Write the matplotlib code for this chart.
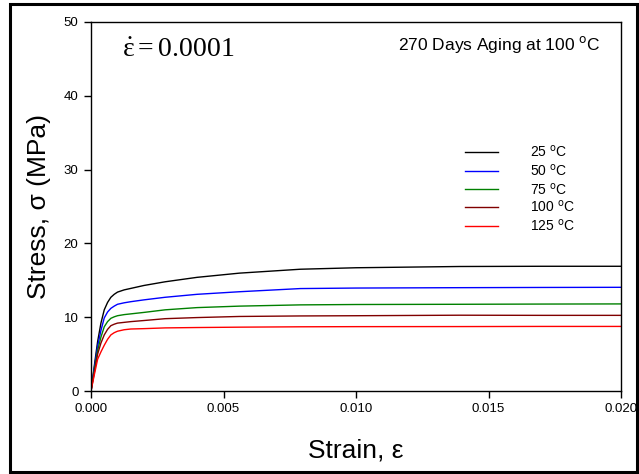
import matplotlib
matplotlib.use("Agg")
import matplotlib.pyplot as plt
from matplotlib.patches import Rectangle

# Stress-strain curves, 270 days aging at 100 C, strain rate 1e-4
strain = [0.0, 0.000125, 0.00025, 0.000375, 0.0005, 0.000625, 0.00075,
          0.000875, 0.001, 0.00125, 0.0015, 0.002, 0.0028, 0.004, 0.0056,
          0.0079, 0.0100, 0.0139, 0.0170, 0.0200]
stress_25 = [0.0, 3.4, 6.7, 9.2, 11.0, 12.0, 12.7, 13.1, 13.4, 13.7, 13.9,
             14.3, 14.8, 15.4, 15.97, 16.5, 16.7, 16.87, 16.9, 16.9]
stress_50 = [0.0, 3.1, 6.1, 8.2, 9.9, 10.7, 11.2, 11.5, 11.75, 11.95, 12.1,
             12.35, 12.7, 13.1, 13.45, 13.88, 13.95, 14.0, 14.03, 14.05]
stress_75 = [0.0, 2.8, 5.5, 7.3, 8.7, 9.4, 9.85, 10.05, 10.2, 10.35, 10.45,
             10.65, 11.0, 11.3, 11.5, 11.67, 11.72, 11.75, 11.78, 11.8]
stress_100 = [0.0, 2.5, 5.0, 6.5, 7.6, 8.35, 8.85, 9.05, 9.2, 9.3, 9.4,
              9.55, 9.8, 9.95, 10.1, 10.17, 10.2, 10.27, 10.25, 10.25]
stress_125 = [0.0, 2.2, 4.3, 5.3, 6.2, 7.0, 7.6, 7.9, 8.1, 8.3, 8.4,
              8.45, 8.55, 8.6, 8.65, 8.7, 8.72, 8.73, 8.75, 8.75]

labels = ["25", "50", "75", "100", "125"]
colors = ["#000000", "#0000ff", "#008000", "#800000", "#ff0000"]
series = [stress_25, stress_50, stress_75, stress_100, stress_125]

x_ticks = [0.000, 0.005, 0.010, 0.015, 0.020]
x_ticklabels = ["0.000", "0.005", "0.010", "0.015", "0.020"]
y_ticks = [0, 10, 20, 30, 40, 50]

plt.rcParams["font.family"] = ["Liberation Sans", "DejaVu Sans"]
plt.rcParams["mathtext.rm"] = "Liberation Serif"
plt.rcParams["mathtext.it"] = "Liberation Serif"

fig = plt.figure(figsize=(6.39, 4.74), dpi=100)
ax = fig.add_axes([91 / 639, 83 / 474, 530 / 639, 369 / 474])

for ys, c in zip(series, colors):
    ax.plot(strain, ys, color=c, lw=1.0)

ax.set_xlim(0, 0.020)
ax.set_ylim(0, 50)
ax.set_xticks(x_ticks)
ax.set_xticklabels(x_ticklabels)
ax.set_yticks(y_ticks)
ax.tick_params(direction="out", length=5, width=1, labelsize=9.5,
               top=False, right=False, pad=4)
for s in ax.spines.values():
    s.set_linewidth(1.0)

ax.set_xlabel("Strain, \u03b5", fontsize=19)
ax.set_ylabel("Stress, \u03c3 (MPa)", fontsize=19)
ax.xaxis.set_label_coords(0.5, -0.128)
ax.yaxis.set_label_coords(-0.075, 0.5)

# strain-rate annotation (upright serif epsilon with a dot)
ax.text(0.164, 0.924, "$\\dot{\\mathrm{\u03b5}}=\\mathrm{0.0001}$",
        transform=ax.transAxes, ha="center", va="center", fontsize=20,
        math_fontfamily="custom")

ax.text(0.77, 0.938, r"270 Days Aging at 100 $^{\mathrm{o}}$C",
        transform=ax.transAxes, ha="center", va="center", fontsize=12.5)

# legend drawn as short line samples with labels
leg_y = [0.648, 0.596, 0.547, 0.499, 0.447]
for ly, c, lab in zip(leg_y, colors, labels):
    ax.plot([0.706, 0.768], [ly, ly], color=c, lw=1.0,
            transform=ax.transAxes, clip_on=False)
    ax.text(0.828, ly, lab + r" $^{\mathrm{o}}$C", transform=ax.transAxes,
            ha="left", va="center", fontsize=10)

# outer frame
fig.add_artist(Rectangle((9.5 / 639, 2.5 / 474), 627 / 639, 467.5 / 474,
                         transform=fig.transFigure, fill=False,
                         edgecolor="black", lw=2.2))

fig.savefig("out.png", dpi=100)
